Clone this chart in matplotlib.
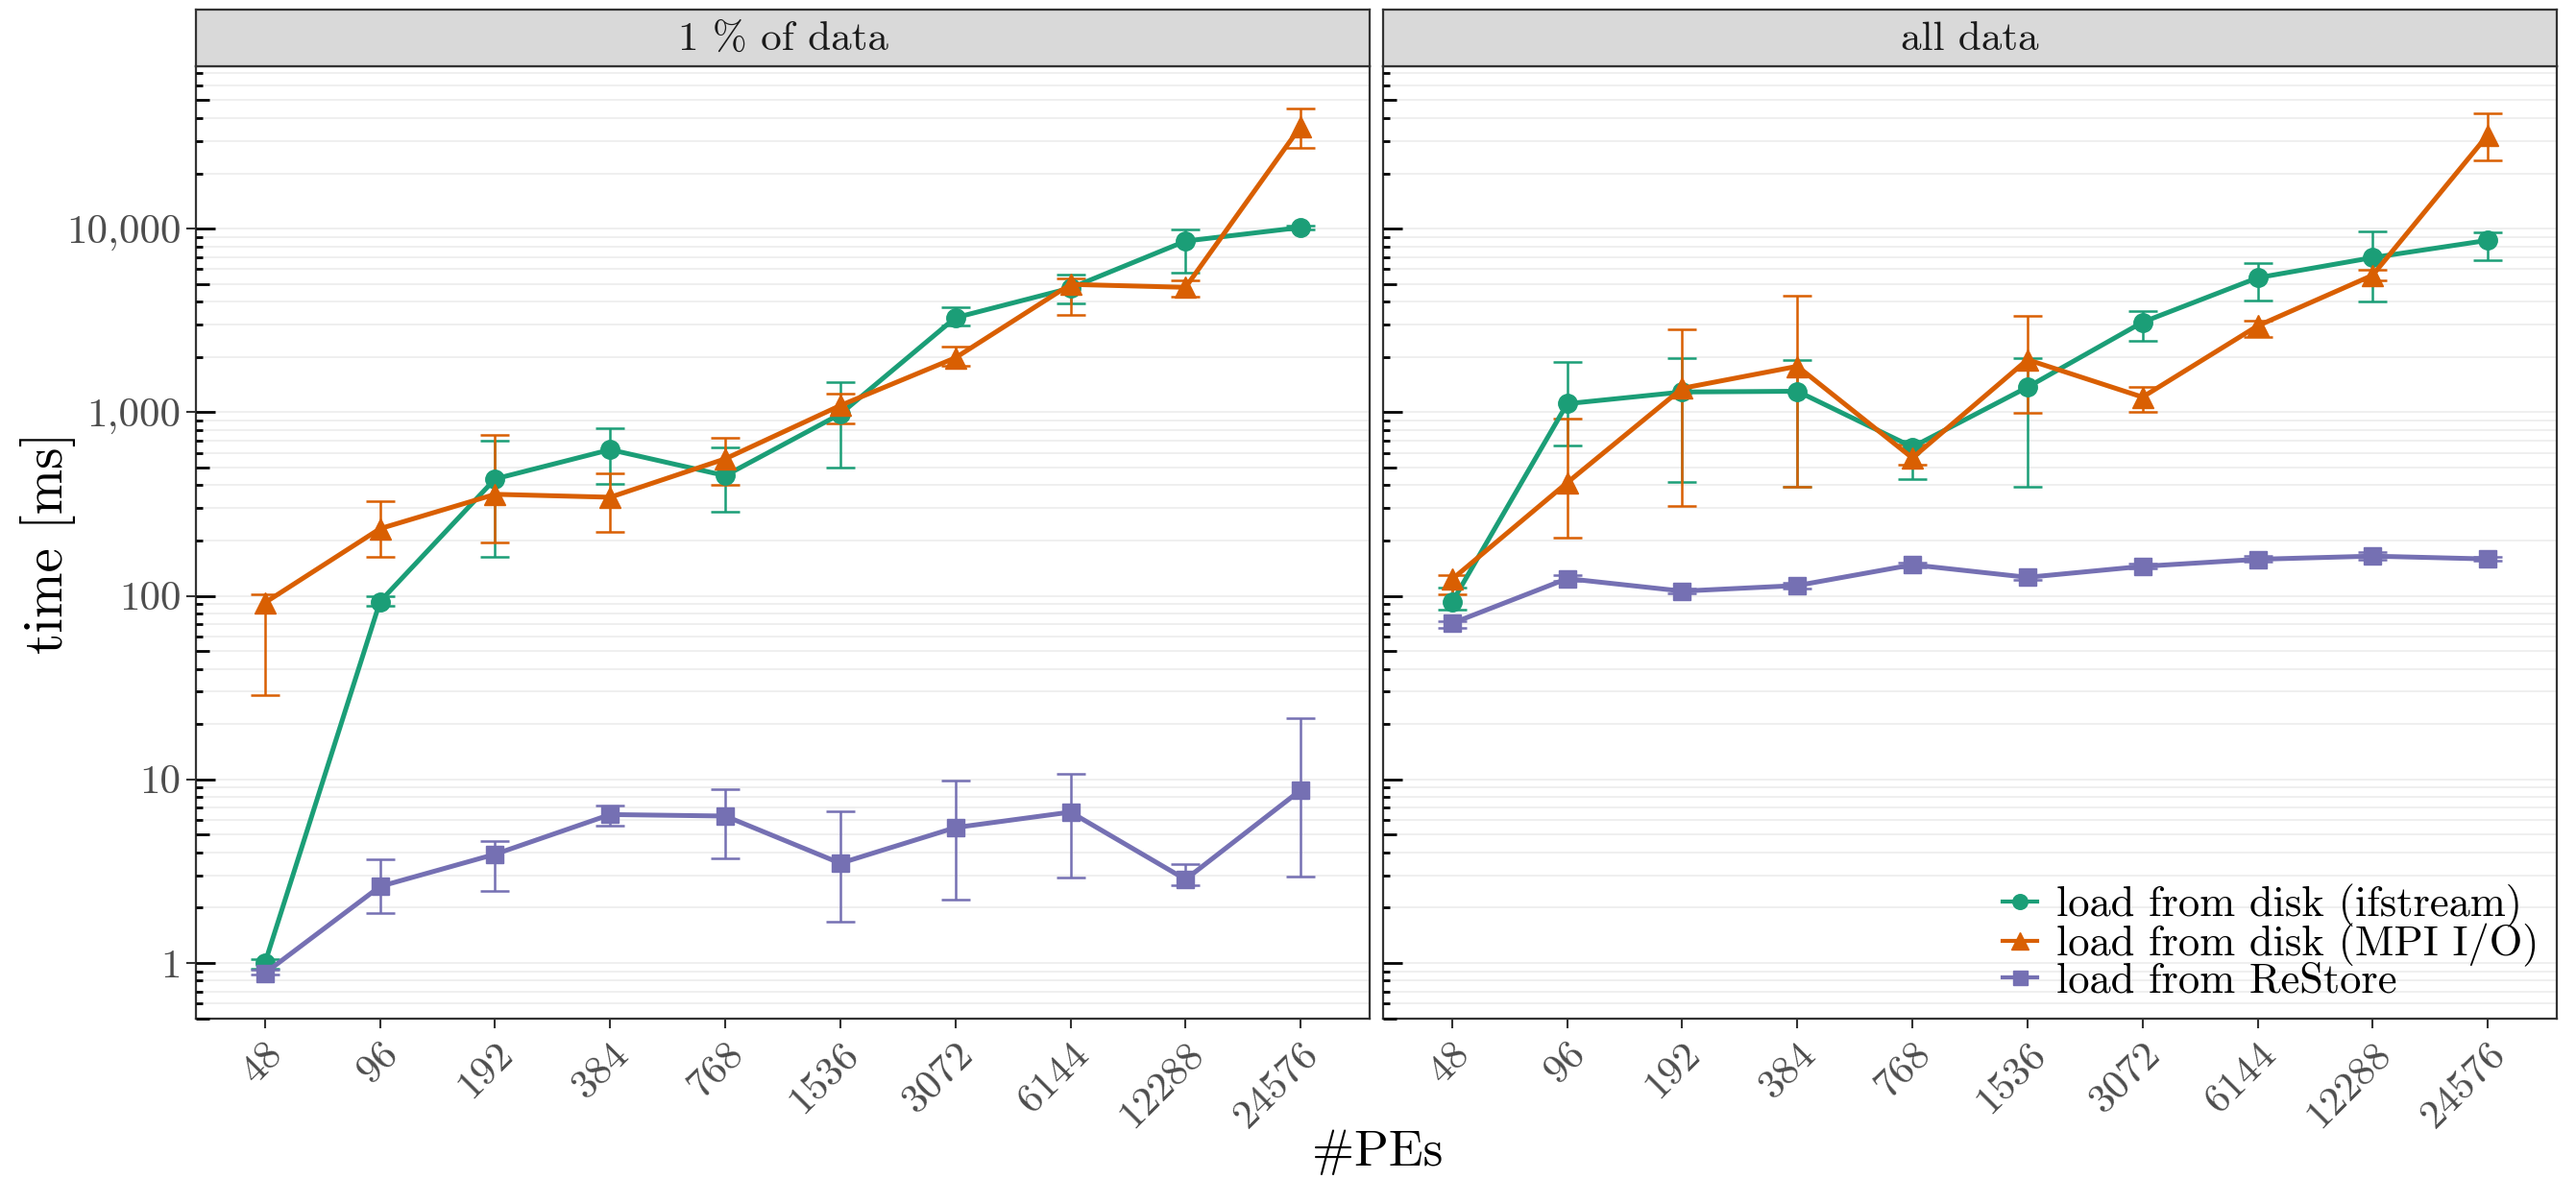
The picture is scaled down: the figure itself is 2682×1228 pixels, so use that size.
import matplotlib
matplotlib.use("Agg")
import matplotlib.pyplot as plt
import matplotlib.transforms as mtransforms
from matplotlib.lines import Line2D
import numpy as np

plt.rcParams['font.family'] = ['cmr10', 'DejaVu Serif']
plt.rcParams['mathtext.fontset'] = 'cm'
plt.rcParams['axes.unicode_minus'] = False

# ---- data -------------------------------------------------------------
pes = ["48", "96", "192", "384", "768", "1536", "3072", "6144", "12288", "24576"]
facets = ["1 % of data", "all data"]
series = ["load from disk (ifstream)", "load from disk (MPI I/O)", "load from ReStore"]

# 1 % of data
part_ifstream_mean = [1.0, 93, 433, 625, 451, 977, 3270, 4740, 8550, 10140]
part_ifstream_lo = [0.93, 88, 163, 408, 286, 501, 2950, 3900, 5750, 9900]
part_ifstream_hi = [1.05, 99, 702, 813, 640, 1466, 3715, 5620, 9910, 10400]

part_mpi_mean = [91.7, 232, 357, 344, 557, 1087, 1977, 4966, 4786, 35970]
part_mpi_lo = [28.8, 163, 195, 224, 400, 871, 1780, 3400, 4266, 27540]
part_mpi_hi = [102, 328, 752, 464, 725, 1265, 2270, 5370, 5200, 44870]

part_restore_mean = [0.88, 2.61, 3.91, 6.43, 6.31, 3.49, 5.46, 6.63, 2.85, 8.73]
part_restore_lo = [0.86, 1.86, 2.46, 5.62, 3.71, 1.68, 2.20, 2.92, 2.65, 2.95]
part_restore_hi = [0.92, 3.68, 4.61, 7.22, 8.84, 6.68, 9.84, 10.7, 3.46, 21.6]

# all data
full_ifstream_mean = [92.3, 1112, 1288, 1300, 646, 1368, 3090, 5395, 6950, 8630]
full_ifstream_lo = [84, 655, 417, 394, 433, 394, 2432, 4036, 4000, 6700]
full_ifstream_hi = [111, 1888, 1977, 1932, 702, 1977, 3565, 6486, 9683, 9590]

full_mpi_mean = [123, 413, 1349, 1778, 563, 1932, 1208, 2951, 5572, 32360]
full_mpi_lo = [101.6, 207, 310, 394, 520, 991, 1005, 2582, 5200, 23660]
full_mpi_hi = [129, 925, 2818, 4325, 670, 3327, 1368, 3162, 5970, 42270]

full_restore_mean = [70.8, 124, 106, 113.7, 147.5, 126, 144.6, 158, 164.4, 158.6]
full_restore_lo = [66.7, 120, 103, 110, 143, 122, 141, 153, 158, 155]
full_restore_hi = [72.6, 130, 110, 118, 152, 130, 149, 164, 172, 163]

y_breaks = [1, 10, 100, 1000, 10000]
y_labels = ["1", "10", "100", "1,000", "10,000"]

# ---- style ------------------------------------------------------------
colors = ["#1B9E77", "#D95F02", "#7570B3"]
markers = ["o", "^", "s"]
msizes = [14, 16, 13.5]
GRID = "#EBEBEB"
BORDER = "#333333"
TICKLAB = "#4D4D4D"

W, H = 2682, 1228
DPI = 100
fig = plt.figure(figsize=(W / DPI, H / DPI), dpi=DPI)


def rect(x0, y0, x1, y1):
    return [x0 / W, 1 - y1 / H, (x1 - x0) / W, (y1 - y0) / H]


PANEL_TOP, PANEL_BOT = 69, 1061
STRIP_TOP = 10
panels_x = [(204, 1426), (1440, 2662)]
YLIM = (0.497, 76600)

data = [
    [(part_ifstream_mean, part_ifstream_lo, part_ifstream_hi),
     (part_mpi_mean, part_mpi_lo, part_mpi_hi),
     (part_restore_mean, part_restore_lo, part_restore_hi)],
    [(full_ifstream_mean, full_ifstream_lo, full_ifstream_hi),
     (full_mpi_mean, full_mpi_lo, full_mpi_hi),
     (full_restore_mean, full_restore_lo, full_restore_hi)],
]

x = np.arange(len(pes))
axes = []
for i, (x0, x1) in enumerate(panels_x):
    ax = fig.add_axes(rect(x0, PANEL_TOP, x1, PANEL_BOT))
    axes.append(ax)
    ax.set_yscale("log")
    ax.set_ylim(*YLIM)
    ax.set_xlim(-0.6, len(pes) - 0.4)
    ax.yaxis.set_minor_locator(matplotlib.ticker.NullLocator())

    # log gridlines and inner log ticks (1/5/10 emphasis)
    panel_w = x1 - x0
    tr = mtransforms.blended_transform_factory(ax.transAxes, ax.transData)
    for k in range(-1, 5):
        for m in range(1, 10):
            v = m * 10.0 ** k
            if not (YLIM[0] <= v <= YLIM[1]):
                continue
            ax.axhline(v, color=GRID, lw=1.1, zorder=0)
            length = 20 if m == 1 else (14 if m == 5 else 7)
            ax.plot([0, length / panel_w], [v, v], transform=tr, color="black",
                    lw=2.0, solid_capstyle="butt", zorder=5, clip_on=False)

    for s in range(3):
        mean, lo, hi = (np.asarray(a, dtype=float) for a in data[i][s])
        ax.errorbar(x, mean, yerr=[mean - lo, hi - mean], fmt="none",
                    ecolor=colors[s], elinewidth=1.8, capsize=10.5,
                    capthick=1.8, zorder=2 + s * 0.1)
        ax.plot(x, mean, color=colors[s], lw=3.6, marker=markers[s],
                ms=msizes[s], mec=colors[s], mfc=colors[s], zorder=3 + s * 0.1)

    for sp in ax.spines.values():
        sp.set_color(BORDER)
        sp.set_linewidth(1.6)

    ax.set_xticks(x)
    ax.set_xticklabels(pes, rotation=45, ha="right", va="top",
                       rotation_mode="anchor", fontsize=31, color=TICKLAB)
    ax.tick_params(axis="x", length=7, width=1.5, color=BORDER, pad=6)

    if i == 0:
        ax.set_yticks(y_breaks)
        ax.set_yticklabels(y_labels, fontsize=31, color=TICKLAB)
        ax.tick_params(axis="y", length=7, width=1.5, color=BORDER, pad=4)
    else:
        ax.set_yticks(y_breaks)
        ax.tick_params(axis="y", left=False, labelleft=False)

    # facet strip
    sax = fig.add_axes(rect(x0, STRIP_TOP, x1, PANEL_TOP))
    sax.set_facecolor("#D9D9D9")
    sax.set_xticks([])
    sax.set_yticks([])
    for sp in sax.spines.values():
        sp.set_color(BORDER)
        sp.set_linewidth(1.6)
    sax.text(0.5, 0.47, facets[i], ha="center", va="center", fontsize=31,
             color="#1A1A1A", transform=sax.transAxes)

# legend inside the right panel
handles = [Line2D([], [], color=colors[s], marker=markers[s], ms=msizes[s] * 0.8,
                  lw=3.0) for s in range(3)]
axes[1].legend(handles, series, loc="lower right", bbox_to_anchor=(1.0, 0.0),
               frameon=False, fontsize=32, handlelength=0.8, handletextpad=0.45,
               labelspacing=-0.1, borderaxespad=0.02)

fig.text(1434 / W, 1 - 1200 / H, "#PEs", ha="center", va="center", fontsize=38)
fig.text(50 / W, 1 - 565 / H, "time [ms]", ha="center", va="center",
         rotation=90, fontsize=41)

fig.savefig("out.png", dpi=DPI, facecolor="white")
